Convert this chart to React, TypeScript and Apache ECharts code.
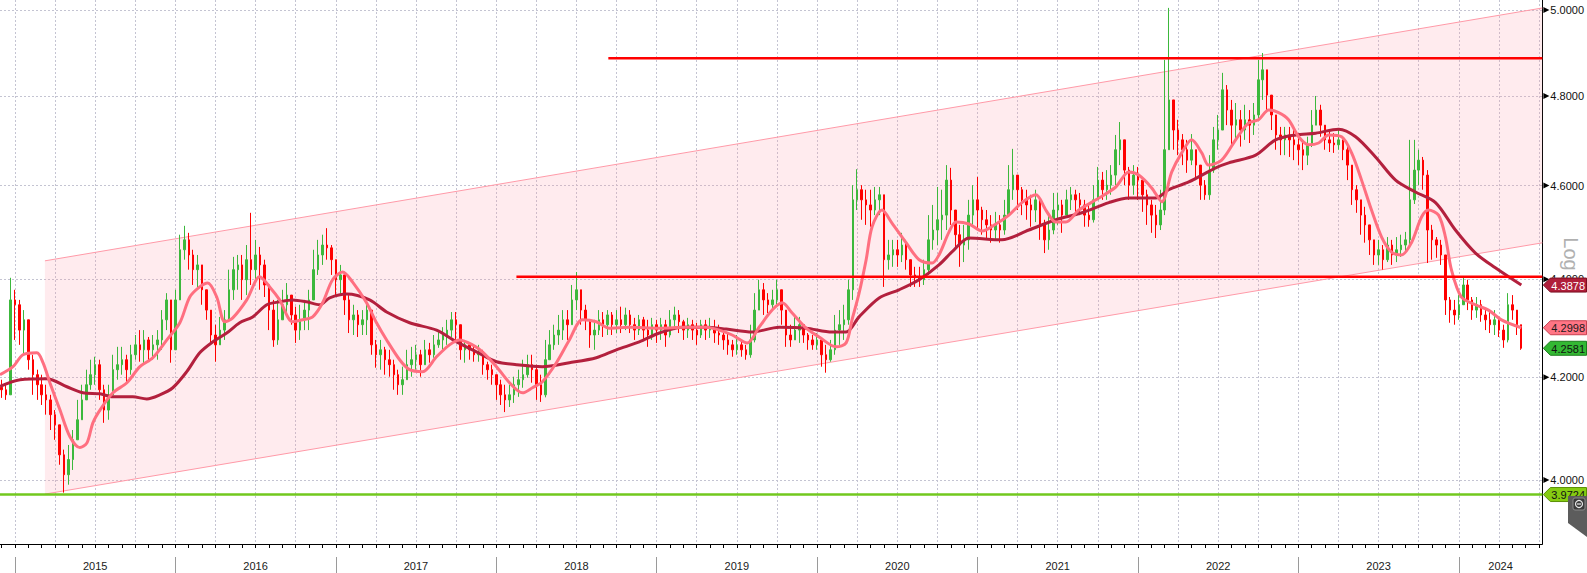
import React, { useEffect, useRef } from "react";
import * as echarts from "echarts";

// ---- axis ranges (fractional years / price) ----
const X_MIN = 2014.907;
const X_MAX = 2024.521;
const Y_MIN_PRICE = 3.8802;
const Y_MAX_PRICE = 5.0238;

// candles: one every 1/36 year starting at FIRST_CANDLE
const FIRST_CANDLE = 2014.917;
const CANDLE_STEP = 1 / 36;

const opens = [
  4.180,4.175,4.165,4.357,4.347,4.295,4.316,4.235,4.205,4.185,4.165,4.155,
  4.126,4.106,4.048,4.010,4.039,4.077,4.116,4.155,4.185,4.205,4.225,4.175,
  4.135,4.165,4.215,4.225,4.235,4.215,4.245,4.265,4.255,4.275,4.255,4.265,
  4.275,4.316,4.357,4.255,4.357,4.462,4.483,4.451,4.420,4.430,4.378,4.336,
  4.285,4.265,4.295,4.316,4.378,4.420,4.430,4.399,4.441,4.420,4.451,4.430,
  4.388,4.336,4.275,4.316,4.347,4.367,4.326,4.295,4.316,4.336,4.357,4.420,
  4.451,4.472,4.466,4.441,4.399,4.409,4.357,4.316,4.326,4.306,4.316,4.336,
  4.265,4.245,4.255,4.235,4.225,4.205,4.185,4.195,4.225,4.235,4.245,4.225,
  4.255,4.245,4.265,4.275,4.285,4.295,4.316,4.306,4.255,4.265,4.255,4.245,
  4.251,4.225,4.215,4.205,4.185,4.165,4.155,4.165,4.185,4.195,4.205,4.225,
  4.215,4.185,4.165,4.235,4.265,4.285,4.295,4.316,4.306,4.357,4.378,4.336,
  4.316,4.285,4.295,4.316,4.306,4.326,4.306,4.316,4.306,4.326,4.306,4.295,
  4.316,4.295,4.285,4.306,4.295,4.306,4.285,4.316,4.326,4.312,4.295,4.306,
  4.295,4.285,4.306,4.295,4.299,4.289,4.285,4.275,4.265,4.255,4.265,4.255,
  4.245,4.275,4.336,4.378,4.357,4.347,4.357,4.378,4.336,4.285,4.275,4.295,
  4.306,4.285,4.275,4.265,4.275,4.245,4.235,4.255,4.295,4.306,4.316,4.378,
  4.569,4.591,4.569,4.558,4.547,4.569,4.580,4.441,4.451,4.462,4.451,4.472,
  4.441,4.409,4.403,4.399,4.420,4.483,4.504,4.526,4.536,4.612,4.547,4.494,
  4.472,4.483,4.536,4.569,4.547,4.526,4.515,4.504,4.515,4.504,4.536,4.591,
  4.623,4.591,4.569,4.558,4.547,4.569,4.515,4.483,4.504,4.547,4.558,4.536,
  4.569,4.580,4.569,4.558,4.536,4.526,4.569,4.612,4.591,4.601,4.623,4.679,
  4.701,4.634,4.601,4.623,4.612,4.580,4.558,4.536,4.515,4.547,4.679,4.791,
  4.723,4.701,4.679,4.656,4.679,4.645,4.601,4.580,4.634,4.701,4.723,4.814,
  4.768,4.734,4.746,4.723,4.746,4.734,4.757,4.837,4.860,4.802,4.757,4.712,
  4.701,4.712,4.701,4.690,4.679,4.667,4.690,4.734,4.768,4.734,4.701,4.694,
  4.690,4.701,4.679,4.645,4.591,4.569,4.536,4.515,4.483,4.451,4.462,4.441,
  4.472,4.451,4.462,4.472,4.483,4.569,4.634,4.656,4.623,4.504,4.483,4.472,
  4.451,4.357,4.336,4.326,4.347,4.388,4.357,4.336,4.347,4.326,4.316,4.306,
  4.316,4.295,4.275,4.347,4.336,4.306,
];

const closes = [
  4.175,4.165,4.357,4.347,4.295,4.316,4.235,4.205,4.185,4.165,4.155,4.126,
  4.106,4.048,4.010,4.039,4.077,4.116,4.155,4.185,4.205,4.225,4.175,4.135,
  4.165,4.215,4.225,4.235,4.215,4.245,4.265,4.255,4.275,4.255,4.265,4.275,
  4.316,4.357,4.255,4.357,4.462,4.483,4.451,4.420,4.430,4.378,4.336,4.285,
  4.265,4.295,4.316,4.378,4.420,4.430,4.399,4.441,4.420,4.451,4.430,4.388,
  4.336,4.275,4.316,4.347,4.367,4.326,4.295,4.316,4.336,4.357,4.420,4.451,
  4.472,4.466,4.441,4.399,4.409,4.357,4.316,4.326,4.306,4.316,4.336,4.265,
  4.245,4.255,4.235,4.225,4.205,4.185,4.195,4.225,4.235,4.245,4.225,4.255,
  4.245,4.265,4.275,4.285,4.295,4.316,4.306,4.255,4.265,4.255,4.245,4.251,
  4.225,4.215,4.205,4.185,4.165,4.155,4.165,4.185,4.195,4.205,4.225,4.215,
  4.185,4.165,4.235,4.265,4.285,4.295,4.316,4.306,4.357,4.378,4.336,4.316,
  4.285,4.295,4.316,4.306,4.326,4.306,4.316,4.306,4.326,4.306,4.295,4.316,
  4.295,4.285,4.306,4.295,4.306,4.285,4.316,4.326,4.312,4.295,4.306,4.295,
  4.285,4.306,4.295,4.299,4.289,4.285,4.275,4.265,4.255,4.265,4.255,4.245,
  4.275,4.336,4.378,4.357,4.347,4.357,4.378,4.336,4.285,4.275,4.295,4.306,
  4.285,4.275,4.265,4.275,4.245,4.235,4.255,4.295,4.306,4.316,4.378,4.569,
  4.591,4.569,4.558,4.547,4.569,4.580,4.441,4.451,4.462,4.451,4.472,4.441,
  4.409,4.403,4.399,4.420,4.483,4.504,4.526,4.536,4.612,4.547,4.494,4.472,
  4.483,4.536,4.569,4.547,4.526,4.515,4.504,4.515,4.504,4.536,4.591,4.623,
  4.591,4.569,4.558,4.547,4.569,4.515,4.483,4.504,4.547,4.558,4.536,4.569,
  4.580,4.569,4.558,4.536,4.526,4.569,4.612,4.591,4.601,4.623,4.679,4.701,
  4.634,4.601,4.623,4.612,4.580,4.558,4.536,4.515,4.547,4.679,4.791,4.723,
  4.701,4.679,4.656,4.679,4.645,4.601,4.580,4.634,4.701,4.723,4.814,4.768,
  4.734,4.746,4.723,4.746,4.734,4.757,4.837,4.860,4.802,4.757,4.712,4.701,
  4.712,4.701,4.690,4.679,4.667,4.690,4.734,4.768,4.734,4.701,4.694,4.690,
  4.701,4.679,4.645,4.591,4.569,4.536,4.515,4.483,4.451,4.462,4.441,4.472,
  4.451,4.462,4.472,4.483,4.569,4.634,4.656,4.623,4.504,4.483,4.472,4.451,
  4.357,4.336,4.326,4.347,4.388,4.357,4.336,4.347,4.326,4.316,4.306,4.316,
  4.295,4.275,4.347,4.336,4.306,4.2581,
];

const highs = [
  4.195,4.185,4.403,4.378,4.357,4.336,4.316,4.245,4.215,4.205,4.185,4.165,
  4.135,4.106,4.058,4.067,4.096,4.155,4.185,4.215,4.235,4.241,4.235,4.185,
  4.185,4.245,4.261,4.261,4.245,4.265,4.285,4.295,4.295,4.281,4.285,4.295,
  4.336,4.371,4.357,4.378,4.494,4.513,4.498,4.462,4.451,4.430,4.378,4.336,
  4.306,4.322,4.336,4.420,4.447,4.451,4.451,4.472,4.541,4.483,4.468,4.441,
  4.388,4.357,4.357,4.378,4.392,4.367,4.343,4.347,4.357,4.378,4.462,4.483,
  4.494,4.508,4.472,4.441,4.430,4.409,4.367,4.347,4.336,4.336,4.351,4.336,
  4.275,4.275,4.261,4.255,4.235,4.215,4.221,4.255,4.261,4.265,4.255,4.275,
  4.269,4.285,4.295,4.301,4.316,4.332,4.332,4.306,4.275,4.269,4.261,4.265,
  4.255,4.231,4.225,4.205,4.195,4.185,4.185,4.201,4.215,4.235,4.245,4.245,
  4.225,4.205,4.275,4.295,4.306,4.326,4.336,4.336,4.388,4.415,4.378,4.347,
  4.316,4.316,4.336,4.332,4.336,4.332,4.336,4.343,4.341,4.336,4.320,4.326,
  4.322,4.316,4.320,4.316,4.320,4.316,4.336,4.343,4.336,4.316,4.320,4.316,
  4.310,4.316,4.316,4.320,4.316,4.306,4.295,4.289,4.275,4.285,4.275,4.265,
  4.306,4.371,4.399,4.392,4.371,4.378,4.399,4.378,4.336,4.306,4.322,4.322,
  4.306,4.289,4.285,4.289,4.275,4.265,4.275,4.326,4.336,4.347,4.399,4.601,
  4.636,4.601,4.591,4.591,4.597,4.597,4.580,4.483,4.483,4.483,4.498,4.483,
  4.441,4.426,4.426,4.441,4.536,4.558,4.597,4.591,4.645,4.639,4.547,4.515,
  4.515,4.569,4.601,4.619,4.554,4.547,4.536,4.543,4.536,4.569,4.645,4.681,
  4.623,4.597,4.591,4.580,4.591,4.569,4.526,4.536,4.584,4.584,4.569,4.591,
  4.597,4.591,4.584,4.569,4.558,4.601,4.641,4.630,4.634,4.645,4.712,4.741,
  4.701,4.641,4.645,4.641,4.612,4.591,4.569,4.558,4.591,4.883,5.005,4.791,
  4.746,4.714,4.701,4.714,4.679,4.645,4.612,4.667,4.730,4.757,4.853,4.825,
  4.791,4.784,4.768,4.780,4.768,4.784,4.883,4.899,4.860,4.802,4.757,4.730,
  4.730,4.730,4.723,4.708,4.701,4.708,4.768,4.800,4.780,4.734,4.723,4.716,
  4.723,4.701,4.685,4.645,4.601,4.569,4.554,4.515,4.483,4.483,4.472,4.489,
  4.483,4.489,4.494,4.500,4.701,4.701,4.679,4.663,4.634,4.515,4.489,4.483,
  4.451,4.363,4.357,4.367,4.405,4.399,4.363,4.363,4.357,4.336,4.332,4.336,
  4.320,4.306,4.371,4.367,4.336,4.306,
];

const lows = [
  4.159,4.155,4.165,4.275,4.265,4.245,4.215,4.165,4.155,4.145,4.126,4.096,
  4.077,4.029,3.976,3.991,4.019,4.077,4.116,4.155,4.175,4.185,4.155,4.110,
  4.116,4.165,4.195,4.205,4.189,4.205,4.235,4.231,4.225,4.231,4.235,4.235,
  4.255,4.295,4.229,4.255,4.357,4.441,4.420,4.388,4.378,4.347,4.316,4.265,
  4.231,4.265,4.275,4.316,4.357,4.378,4.357,4.367,4.388,4.399,4.378,4.363,
  4.295,4.261,4.265,4.316,4.326,4.306,4.269,4.275,4.295,4.295,4.357,4.409,
  4.430,4.441,4.409,4.367,4.367,4.326,4.289,4.285,4.281,4.285,4.285,4.245,
  4.219,4.215,4.205,4.201,4.175,4.165,4.165,4.195,4.201,4.215,4.201,4.225,
  4.229,4.239,4.259,4.255,4.265,4.281,4.275,4.235,4.229,4.235,4.231,4.231,
  4.205,4.195,4.185,4.155,4.145,4.131,4.141,4.149,4.161,4.179,4.199,4.189,
  4.155,4.151,4.160,4.235,4.255,4.265,4.275,4.275,4.306,4.336,4.306,4.295,
  4.259,4.255,4.285,4.281,4.285,4.285,4.289,4.289,4.295,4.289,4.275,4.285,
  4.275,4.261,4.275,4.269,4.275,4.261,4.280,4.295,4.289,4.275,4.279,4.275,
  4.265,4.279,4.275,4.279,4.269,4.265,4.255,4.245,4.241,4.245,4.241,4.235,
  4.239,4.270,4.336,4.326,4.330,4.336,4.347,4.306,4.261,4.261,4.275,4.269,
  4.269,4.255,4.255,4.255,4.221,4.209,4.231,4.245,4.265,4.275,4.306,4.357,
  4.547,4.526,4.515,4.511,4.536,4.536,4.384,4.420,4.426,4.426,4.436,4.420,
  4.384,4.384,4.384,4.388,4.409,4.462,4.472,4.483,4.504,4.515,4.462,4.426,
  4.436,4.462,4.515,4.504,4.494,4.483,4.477,4.483,4.477,4.494,4.536,4.569,
  4.547,4.536,4.526,4.511,4.521,4.483,4.455,4.462,4.495,4.515,4.498,4.536,
  4.547,4.541,4.536,4.511,4.511,4.520,4.569,4.569,4.569,4.580,4.601,4.645,
  4.601,4.569,4.580,4.569,4.543,4.515,4.498,4.487,4.504,4.536,4.679,4.679,
  4.667,4.645,4.628,4.645,4.612,4.569,4.569,4.569,4.628,4.679,4.723,4.734,
  4.690,4.701,4.686,4.701,4.694,4.712,4.746,4.791,4.768,4.723,4.679,4.667,
  4.667,4.663,4.656,4.645,4.634,4.645,4.685,4.734,4.708,4.679,4.674,4.672,
  4.679,4.656,4.612,4.558,4.541,4.494,4.477,4.451,4.430,4.430,4.420,4.436,
  4.430,4.436,4.447,4.457,4.472,4.560,4.601,4.591,4.434,4.441,4.445,4.430,
  4.326,4.310,4.306,4.316,4.347,4.336,4.316,4.320,4.312,4.295,4.289,4.285,
  4.281,4.259,4.270,4.316,4.285,4.255,
];

// moving averages: [fractional year, price]
const maShort = [
  [2014.907,4.205],[2014.988,4.221],[2015.050,4.245],[2015.137,4.249],[2015.175,4.229],
  [2015.218,4.189],[2015.281,4.135],[2015.343,4.083],[2015.405,4.062],[2015.449,4.071],
  [2015.486,4.110],[2015.530,4.135],[2015.611,4.169],[2015.698,4.189],[2015.779,4.221],
  [2015.860,4.239],[2015.947,4.275],[2016.028,4.310],[2016.090,4.363],[2016.152,4.384],
  [2016.202,4.392],[2016.258,4.363],[2016.308,4.312],[2016.358,4.320],[2016.445,4.357],
  [2016.526,4.405],[2016.588,4.384],[2016.650,4.357],[2016.731,4.312],[2016.794,4.316],
  [2016.856,4.322],[2016.918,4.351],[2016.980,4.399],[2017.043,4.415],[2017.105,4.394],
  [2017.192,4.351],[2017.254,4.310],[2017.317,4.275],[2017.398,4.235],[2017.460,4.215],
  [2017.541,4.211],[2017.628,4.241],[2017.709,4.265],[2017.771,4.275],[2017.852,4.265],
  [2017.914,4.251],[2018.002,4.221],[2018.083,4.189],[2018.164,4.169],[2018.226,4.179],
  [2018.288,4.191],[2018.375,4.229],[2018.456,4.275],[2018.537,4.316],[2018.624,4.312],
  [2018.705,4.299],[2018.830,4.301],[2019.017,4.299],[2019.185,4.301],[2019.309,4.301],
  [2019.390,4.295],[2019.471,4.285],[2019.565,4.269],[2019.639,4.301],[2019.720,4.336],
  [2019.783,4.351],[2019.845,4.330],[2019.932,4.299],[2020.013,4.281],[2020.119,4.261],
  [2020.181,4.269],[2020.218,4.316],[2020.262,4.371],[2020.306,4.441],[2020.343,4.511],
  [2020.405,4.547],[2020.467,4.519],[2020.555,4.477],[2020.636,4.441],[2020.717,4.434],
  [2020.760,4.451],[2020.823,4.500],[2020.866,4.521],[2020.947,4.517],[2021.028,4.502],
  [2021.115,4.517],[2021.196,4.536],[2021.277,4.563],[2021.364,4.580],[2021.426,4.547],
  [2021.488,4.521],[2021.551,4.521],[2021.632,4.547],[2021.738,4.569],[2021.862,4.597],
  [2021.943,4.630],[2022.005,4.623],[2022.086,4.595],[2022.149,4.565],[2022.211,4.630],
  [2022.273,4.672],[2022.335,4.701],[2022.398,4.672],[2022.441,4.645],[2022.522,4.656],
  [2022.609,4.701],[2022.690,4.739],[2022.752,4.746],[2022.815,4.768],[2022.877,4.762],
  [2022.939,4.746],[2023.002,4.708],[2023.064,4.690],[2023.126,4.694],[2023.189,4.712],
  [2023.270,4.708],[2023.332,4.672],[2023.394,4.612],[2023.456,4.547],[2023.519,4.489],
  [2023.581,4.457],[2023.643,4.451],[2023.705,4.477],[2023.768,4.532],[2023.811,4.547],
  [2023.874,4.536],[2023.917,4.489],[2023.954,4.420],[2024.016,4.363],[2024.104,4.347],
  [2024.185,4.336],[2024.266,4.316],[2024.390,4.2998],
];

const maLong = [
  [2014.907,4.182],[2015.032,4.195],[2015.200,4.197],[2015.324,4.181],[2015.424,4.169],
  [2015.530,4.167],[2015.611,4.161],[2015.735,4.161],[2015.822,4.157],[2015.903,4.165],
  [2015.984,4.179],[2016.071,4.211],[2016.152,4.249],[2016.233,4.271],[2016.320,4.289],
  [2016.401,4.310],[2016.482,4.322],[2016.570,4.347],[2016.650,4.353],[2016.731,4.357],
  [2016.819,4.353],[2016.900,4.347],[2016.962,4.361],[2017.068,4.369],[2017.211,4.357],
  [2017.317,4.332],[2017.460,4.310],[2017.628,4.295],[2017.753,4.271],[2017.877,4.251],
  [2018.002,4.231],[2018.126,4.225],[2018.288,4.221],[2018.456,4.229],[2018.624,4.239],
  [2018.749,4.255],[2018.892,4.271],[2019.017,4.289],[2019.160,4.301],[2019.309,4.301],
  [2019.434,4.297],[2019.596,4.291],[2019.764,4.301],[2019.932,4.299],[2020.094,4.291],
  [2020.181,4.291],[2020.262,4.322],[2020.387,4.361],[2020.511,4.378],[2020.636,4.399],
  [2020.760,4.430],[2020.854,4.462],[2020.947,4.487],[2021.152,4.483],[2021.320,4.504],
  [2021.488,4.526],[2021.650,4.541],[2021.819,4.563],[2021.943,4.573],[2022.111,4.573],
  [2022.192,4.591],[2022.317,4.608],[2022.485,4.639],[2022.566,4.650],[2022.734,4.667],
  [2022.858,4.701],[2022.983,4.712],[2023.108,4.716],[2023.251,4.725],[2023.357,4.708],
  [2023.481,4.663],[2023.606,4.612],[2023.730,4.586],[2023.855,4.563],[2023.979,4.504],
  [2024.104,4.455],[2024.228,4.424],[2024.390,4.3878],
];

// rising channel (left / right ends)
const channelX = [2015.187, 2024.521];
const channelLower = [3.9733, 4.4767];
const channelUpper = [4.4386, 5.0048];

// horizontal levels
const resistanceTop = { from: 2018.699, value: 4.887 };
const resistanceMid = { from: 2018.126, value: 4.405 };
const supportLevel = { from: X_MIN, value: 3.9724 };

// axis ticks
const yTickPrices = [4.0, 4.2, 4.4, 4.6, 4.8, 5.0];
const years = [2015, 2016, 2017, 2018, 2019, 2020, 2021, 2022, 2023, 2024];

// right-hand value tags
const tags = [
  { value: 4.3878, bg: "#b01e3a", fg: "#ffffff", stroke: "#7a0f22" },
  { value: 4.2998, bg: "#ff7585", fg: "#1a1a1a", stroke: "#c8404f" },
  { value: 4.2581, bg: "#33b833", fg: "#111111", stroke: "#1d7d1d" },
  { value: 3.9724, bg: "#86cc12", fg: "#111111", stroke: "#5a8f05" },
];

const FONT = '"Liberation Sans", Arial, sans-serif';
const ln = Math.log;

export default function App() {
  const ref = useRef<HTMLDivElement>(null);

  useEffect(() => {
    if (!ref.current) return;
    const chart = echarts.init(ref.current, null, { renderer: "svg" });

    const candleData = closes.map((c, i) => [
      FIRST_CANDLE + i * CANDLE_STEP,
      ln(opens[i]),
      ln(c),
      ln(lows[i]),
      ln(highs[i]),
    ]);

    const monthTicks: number[] = [];
    for (let m = 0; m <= 115; m++) monthTicks.push(2014 + 11 / 12 + m / 12);
    const quarterTicks: number[] = [];
    for (let q = 0; q <= 38; q++) quarterTicks.push(2015 + q * 0.25);
    const yearLabelPos = years.map((y) => (y === 2024 ? (2024 + X_MAX) / 2 : y + 0.5));
    const yTicks = yTickPrices.map((p) => ln(p));

    const gridLine = { show: true, lineStyle: { color: "#c4c4d2", width: 1, type: [2, 2] as any } };

    const hLine = (from: number, value: number, color: string, width: number) => ({
      type: "line",
      data: [
        [from, ln(value)],
        [X_MAX, ln(value)],
      ],
      symbol: "none",
      silent: true,
      z: 6,
      lineStyle: { color, width },
    });

    const channelLine = (vals: number[]) => ({
      type: "line",
      data: channelX.map((x, i) => [x, ln(vals[i])]),
      symbol: "none",
      silent: true,
      z: 2,
      lineStyle: { color: "#ff9aa8", width: 1 },
    });

    chart.setOption({
      animation: false,
      backgroundColor: "#ffffff",
      grid: { left: 0, right: 43, top: 0, bottom: 29, containLabel: false },
      xAxis: [
        {
          type: "value",
          min: X_MIN,
          max: X_MAX,
          position: "bottom",
          axisLine: { show: true, onZero: false, lineStyle: { color: "#000", width: 1 } },
          axisTick: { show: true, customValues: monthTicks, length: 4, lineStyle: { color: "#000" } },
          axisLabel: { show: false },
          splitLine: { show: false },
        },
        {
          type: "value",
          min: X_MIN,
          max: X_MAX,
          position: "bottom",
          offset: 13,
          axisLine: { show: false },
          axisTick: { show: true, customValues: years, length: 16, lineStyle: { color: "#9a9a9a" } },
          axisLabel: {
            show: true,
            customValues: yearLabelPos,
            formatter: (v: number) => String(Math.floor(v)),
            margin: 3,
            fontSize: 11,
            fontFamily: FONT,
            color: "#1a1a1a",
          },
          splitLine: { show: false },
        },
        {
          type: "value",
          min: X_MIN,
          max: X_MAX,
          position: "bottom",
          axisLine: { show: false },
          axisTick: { show: false, customValues: quarterTicks },
          axisLabel: { show: false },
          splitLine: gridLine,
        },
      ],
      yAxis: [
        {
          type: "value",
          position: "right",
          min: ln(Y_MIN_PRICE),
          max: ln(Y_MAX_PRICE),
          axisLine: { show: true, onZero: false, lineStyle: { color: "#000", width: 1 } },
          axisTick: { show: false, customValues: yTicks },
          axisLabel: {
            show: true,
            customValues: yTicks,
            formatter: (v: number) => Math.exp(v).toFixed(4),
            margin: 8,
            fontSize: 11,
            fontFamily: FONT,
            color: "#111111",
          },
          splitLine: gridLine,
        },
      ],
      series: [
        {
          type: "custom",
          silent: true,
          z: 1,
          data: [[channelX[0], ln(channelLower[0])]],
          encode: { x: 0, y: 1 },
          renderItem: (_params: any, api: any) => {
            const pts = [
              api.coord([channelX[0], ln(channelLower[0])]),
              api.coord([channelX[1], ln(channelLower[1])]),
              api.coord([channelX[1], ln(channelUpper[1])]),
              api.coord([channelX[0], ln(channelUpper[0])]),
            ];
            return {
              type: "polygon",
              shape: { points: pts },
              style: { fill: "rgba(255,150,166,0.19)" },
            };
          },
        },
        channelLine(channelLower),
        channelLine(channelUpper),
        {
          type: "candlestick",
          data: candleData,
          barWidth: 2,
          z: 3,
          itemStyle: {
            color: "#3cb83c",
            color0: "#ff0000",
            borderColor: "#3cb83c",
            borderColor0: "#ff0000",
            borderWidth: 1,
          },
        },
        {
          type: "line",
          data: maLong.map(([t, v]) => [t, ln(v)]),
          symbol: "none",
          smooth: 0.3,
          z: 4,
          lineStyle: { color: "#b3203d", width: 3 },
        },
        {
          type: "line",
          data: maShort.map(([t, v]) => [t, ln(v)]),
          symbol: "none",
          smooth: 0.3,
          z: 5,
          lineStyle: { color: "#ff6f80", width: 3 },
        },
        hLine(resistanceTop.from, resistanceTop.value, "#ff0000", 2.5),
        hLine(resistanceMid.from, resistanceMid.value, "#ff0000", 2.5),
        hLine(supportLevel.from, supportLevel.value, "#72c81e", 2.5),
      ],
    });

    // overlays positioned through the chart's own scales
    const axisX = chart.convertToPixel({ xAxisIndex: 0 }, X_MAX) as number;
    const W = 1587;
    const graphics: any[] = [];
    yTicks.forEach((v) => {
      const y = chart.convertToPixel({ yAxisIndex: 0 }, v) as number;
      graphics.push({
        type: "polygon",
        shape: { points: [[axisX + 1, y - 3], [axisX + 7, y], [axisX + 1, y + 3]] },
        style: { fill: "#000" },
        z: 50,
      });
    });
    tags.forEach((t) => {
      const y = chart.convertToPixel({ yAxisIndex: 0 }, ln(t.value)) as number;
      graphics.push({
        type: "polygon",
        shape: {
          points: [
            [axisX + 1, y],
            [axisX + 8, y - 7],
            [W - 0.5, y - 7],
            [W - 0.5, y + 7],
            [axisX + 8, y + 7],
          ],
        },
        style: { fill: t.bg, stroke: t.stroke, lineWidth: 1 },
        z: 60,
      });
      graphics.push({
        type: "text",
        x: axisX + 9,
        y: y + 0.5,
        style: {
          text: t.value.toFixed(4),
          fill: t.fg,
          fontSize: 11,
          fontFamily: FONT,
          align: "left",
          verticalAlign: "middle",
        },
        z: 61,
      });
    });
    graphics.push({
      type: "text",
      x: 1571,
      y: 254,
      rotation: -Math.PI / 2,
      style: {
        text: "Log",
        fill: "#b0b0b0",
        fontSize: 20,
        fontFamily: FONT,
        align: "center",
        verticalAlign: "middle",
      },
      z: 40,
    });
    // small grey toolbar widget at bottom right (partly over the last tag, as in the source)
    graphics.push({
      type: "polygon",
      shape: { points: [[1568, 496], [1587, 496], [1587, 537], [1568, 523]] },
      style: { fill: "#5c5c5c" },
      z: 70,
    });
    graphics.push({
      type: "rect",
      shape: { x: 1573, y: 498, width: 12, height: 12, r: 2 },
      style: { fill: "#3a3a3a", stroke: "#8a8a8a", lineWidth: 1 },
      z: 71,
    });
    graphics.push({
      type: "circle",
      shape: { cx: 1579, cy: 504, r: 3.5 },
      style: { fill: "none", stroke: "#e8e8e8", lineWidth: 1.2 },
      z: 72,
    });
    graphics.push({
      type: "line",
      shape: { x1: 1577, y1: 504, x2: 1581, y2: 504 },
      style: { stroke: "#e8e8e8", lineWidth: 1.2 },
      z: 72,
    });
    chart.setOption({ graphic: graphics });

    return () => chart.dispose();
  }, []);

  return (
    <div
      ref={ref}
      style={{ position: "absolute", left: 0, top: 0, width: 1587, height: 573, background: "#fff" }}
    />
  );
}
